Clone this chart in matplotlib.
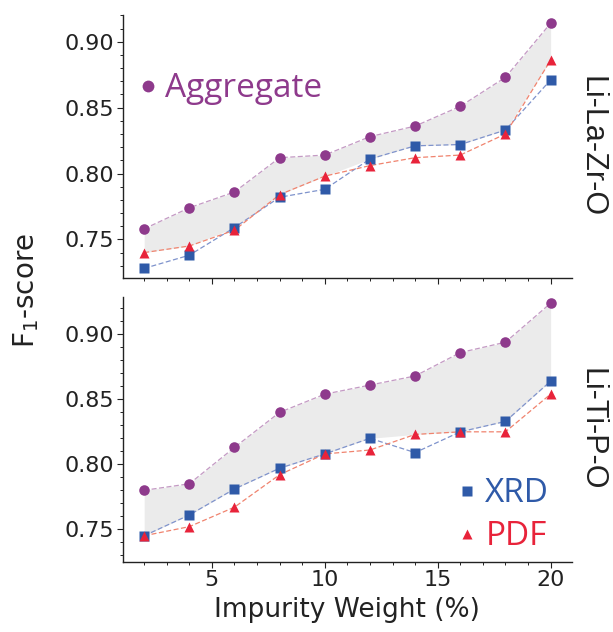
import matplotlib
matplotlib.use("Agg")
import matplotlib.pyplot as plt
import numpy as np
from matplotlib.lines import Line2D
from matplotlib.ticker import MultipleLocator

impurity = [2, 4, 6, 8, 10, 12, 14, 16, 18, 20]

llzo_agg = [0.758, 0.774, 0.786, 0.812, 0.814, 0.828, 0.836, 0.851, 0.873, 0.914]
llzo_xrd = [0.728, 0.738, 0.759, 0.782, 0.788, 0.811, 0.821, 0.822, 0.833, 0.871]
llzo_pdf = [0.740, 0.745, 0.757, 0.784, 0.798, 0.806, 0.812, 0.814, 0.830, 0.886]

ltpo_agg = [0.780, 0.785, 0.813, 0.840, 0.854, 0.861, 0.868, 0.886, 0.894, 0.924]
ltpo_xrd = [0.745, 0.761, 0.781, 0.797, 0.808, 0.820, 0.809, 0.825, 0.833, 0.864]
ltpo_pdf = [0.745, 0.752, 0.767, 0.792, 0.808, 0.811, 0.823, 0.825, 0.825, 0.854]

systems = ["Li-La-Zr-O", "Li-Ti-P-O"]

C_AGG = "#8e3a8c"
C_AGG_L = "#c49ac4"
C_XRD = "#2f5aa8"
C_XRD_L = "#7f93cc"
C_PDF = "#e8233a"
C_PDF_L = "#f0836e"
C_FILL = "#ebebeb"

fig = plt.figure(figsize=(6.13, 6.32), dpi=100)
ax1 = fig.add_axes([0.2002, 0.5597, 0.733, 0.4166])
ax2 = fig.add_axes([0.2002, 0.1112, 0.733, 0.4193])

data = [(llzo_agg, llzo_xrd, llzo_pdf), (ltpo_agg, ltpo_xrd, ltpo_pdf)]
ylims = [(0.7205, 0.9203), (0.725, 0.929)]
for ax, (agg, xrd, pdf), name, yl in zip([ax1, ax2], data, systems, ylims):
    x = np.array(impurity)
    agg = np.array(agg); xrd = np.array(xrd); pdf = np.array(pdf)
    ax.fill_between(x, np.maximum(xrd, pdf), agg, color=C_FILL, lw=0, zorder=1)
    ax.plot(x, agg, ls=(0, (4, 2)), lw=0.9, color=C_AGG_L, zorder=2)
    ax.plot(x, xrd, ls=(0, (4, 2)), lw=0.9, color=C_XRD_L, zorder=2)
    ax.plot(x, pdf, ls=(0, (4, 2)), lw=0.9, color=C_PDF_L, zorder=2)
    ax.plot(x, agg, ls='none', marker='o', ms=7.6, color=C_AGG, mec='none', zorder=3)
    ax.plot(x, xrd, ls='none', marker='s', ms=6.6, color=C_XRD, mec='none', zorder=3)
    ax.plot(x, pdf, ls='none', marker='^', ms=7.8, color=C_PDF, mec='none', zorder=4)
    ax.set_xlim(1.05, 20.95)
    ax.set_ylim(*yl)
    ax.spines['top'].set_visible(False)
    ax.spines['right'].set_visible(False)
    for s in ['left', 'bottom']:
        ax.spines[s].set_linewidth(1.0)
        ax.spines[s].set_color('#222222')
    ax.xaxis.set_major_locator(MultipleLocator(5))
    ax.xaxis.set_minor_locator(MultipleLocator(1))
    ax.yaxis.set_major_locator(MultipleLocator(0.05))
    ax.yaxis.set_minor_locator(MultipleLocator(0.01))
    ax.tick_params(which='major', length=4, width=0.8, labelsize=16, colors='#222222', pad=2)
    ax.tick_params(which='minor', length=2.2, width=0.7, colors='#222222')
    ax.yaxis.set_major_formatter(matplotlib.ticker.FormatStrFormatter('%.2f'))
    ax.text(1.043, 0.5, name, transform=ax.transAxes, rotation=-90, va='center', ha='center',
            fontsize=22, family=['Liberation Sans', 'DejaVu Sans'], color='#222222')

ax1.tick_params(axis='x', labelbottom=False)

ax2.set_xlabel("Impurity Weight (%)", fontsize=19, color='#222222', labelpad=5)
fig.text(0.042, 0.54, "F$_1$-score", rotation=90, va='center', ha='center', fontsize=20, color='#222222')

h_agg = Line2D([], [], ls='none', marker='o', ms=8.5, color=C_AGG, mec='none')
leg1 = ax1.legend([h_agg], ["Aggregate"], loc='center left', bbox_to_anchor=(0.02, 0.72), frameon=False,
                  prop={'family': ['Open Sans', 'DejaVu Sans'], 'size': 24},
                  handletextpad=0.0, handlelength=1.0, borderaxespad=0.0, borderpad=0.0)
for t in leg1.get_texts():
    t.set_color(C_AGG)

h_xrd = Line2D([], [], ls='none', marker='s', ms=7.2, color=C_XRD, mec='none')
h_pdf = Line2D([], [], ls='none', marker='^', ms=7.6, color=C_PDF, mec='none')
leg2 = ax2.legend([h_xrd, h_pdf], ["XRD", "PDF"], loc='center left', bbox_to_anchor=(0.729, 0.175), frameon=False,
                  prop={'family': ['Open Sans', 'DejaVu Sans'], 'size': 24},
                  handletextpad=0.05, handlelength=1.0, labelspacing=0.3, borderaxespad=0.0, borderpad=0.0)
for t, c in zip(leg2.get_texts(), [C_XRD, C_PDF]):
    t.set_color(c)

fig.savefig("out.png", dpi=100)
